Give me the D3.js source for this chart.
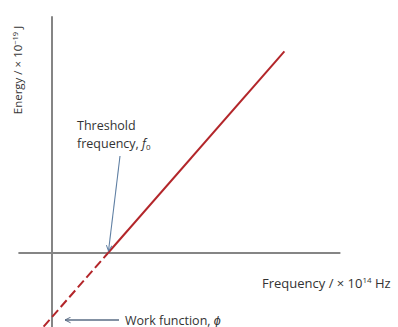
<!DOCTYPE html>
<html>
<head>
<meta charset="utf-8">
<script src="https://cdn.jsdelivr.net/npm/d3@7"></script>
<style>
  html, body { margin: 0; padding: 0; background: #fff; }
  svg { display: block; }
  text { font-family: "Open Sans", "Liberation Sans", sans-serif; fill: #333; }
</style>
</head>
<body>
<script>
// Photoelectric effect: kinetic energy against light frequency
const frequency = [-0.3, 2.0, 8.3];      // × 10^14 Hz
const energy    = [-2.3, 0.0, 6.3];      // × 10^-19 J
const thresholdFrequency = 2.0;
const workFunction = -2.0;               // intercept on the energy axis
const axisFrequency = [-1.2, 10.3];
const axisEnergy = [-2.4, 7.4];

const W = 398, H = 327;
const svg = d3.select("body").append("svg").attr("width", W).attr("height", H);

const x = d3.scaleLinear().domain([0, 1]).range([52, 80]);
const y = d3.scaleLinear().domain([0, 1]).range([253, 221]);

svg.append("defs").selectAll("marker")
  .data([{id: "headBlue", c: "#5f7fa3"}, {id: "headGrey", c: "#5a6d85"}])
  .join("marker")
  .attr("id", d => d.id)
  .attr("viewBox", "0 0 10 10").attr("refX", 9).attr("refY", 5)
  .attr("markerWidth", 7).attr("markerHeight", 7)
  .attr("markerUnits", "userSpaceOnUse")
  .attr("orient", "auto")
  .append("path").attr("d", "M1,1 L9,5 L1,9")
  .attr("fill", "none").attr("stroke", d => d.c).attr("stroke-width", 1.4);

// axes
svg.append("line")
  .attr("x1", x(axisFrequency[0])).attr("x2", x(axisFrequency[1]))
  .attr("y1", y(0)).attr("y2", y(0))
  .attr("stroke", "#858585").attr("stroke-width", 2);
svg.append("line")
  .attr("x1", x(0)).attr("x2", x(0))
  .attr("y1", y(axisEnergy[1])).attr("y2", y(axisEnergy[0]))
  .attr("stroke", "#858585").attr("stroke-width", 2);

const pts = frequency.map((f, i) => [f, energy[i]]);
const line = d3.line().x(d => x(d[0])).y(d => y(d[1]));

// extrapolated part below the frequency axis
svg.append("path").attr("d", line(pts.slice(0, 2)))
  .attr("fill", "none").attr("stroke", "#b3262a").attr("stroke-width", 2)
  .attr("stroke-dasharray", "9,4");
// measured part
svg.append("path").attr("d", line(pts.slice(1)))
  .attr("fill", "none").attr("stroke", "#b3262a").attr("stroke-width", 2);

// threshold frequency annotation
svg.append("line")
  .attr("x1", x(thresholdFrequency) + 12).attr("y1", 156)
  .attr("x2", x(thresholdFrequency) + 0.5).attr("y2", y(0) - 2)
  .attr("stroke", "#5f7fa3").attr("stroke-width", 1.1)
  .attr("marker-end", "url(#headBlue)");

const fs = 12.5;
const thr = svg.append("text").attr("x", 77).attr("y", 130).attr("font-size", fs);
thr.append("tspan").text("Threshold");
const fq = svg.append("text").attr("x", 77).attr("y", 148).attr("font-size", fs);
fq.append("tspan").text("frequency, ");
fq.append("tspan").attr("font-style", "italic").text("f");
fq.append("tspan").attr("font-size", 8).attr("dy", 2).text("0");

// work function annotation
svg.append("line")
  .attr("x1", 119).attr("y1", y(workFunction) + 3)
  .attr("x2", x(0) + 13).attr("y2", y(workFunction) + 3)
  .attr("stroke", "#5a6d85").attr("stroke-width", 1.3)
  .attr("marker-end", "url(#headGrey)");
const wf = svg.append("text").attr("x", 125).attr("y", y(workFunction) + 7.5).attr("font-size", fs);
wf.append("tspan").text("Work function, ");
wf.append("tspan").attr("font-style", "italic").text("ϕ");

// axis titles
const xt = svg.append("text").attr("x", 262).attr("y", 288).attr("font-size", 13);
xt.append("tspan").text("Frequency / × 10");
xt.append("tspan").attr("font-size", 8).attr("dy", -5).text("14");
xt.append("tspan").attr("dy", 5).text(" Hz");

const yt = svg.append("text")
  .attr("transform", "translate(22,70) rotate(-90)")
  .attr("text-anchor", "middle").attr("font-size", 11.5);
yt.append("tspan").text("Energy / × 10");
yt.append("tspan").attr("font-size", 7.5).attr("dy", -4).text("−19");
yt.append("tspan").attr("dy", 4).text(" J");
</script>
</body>
</html>
